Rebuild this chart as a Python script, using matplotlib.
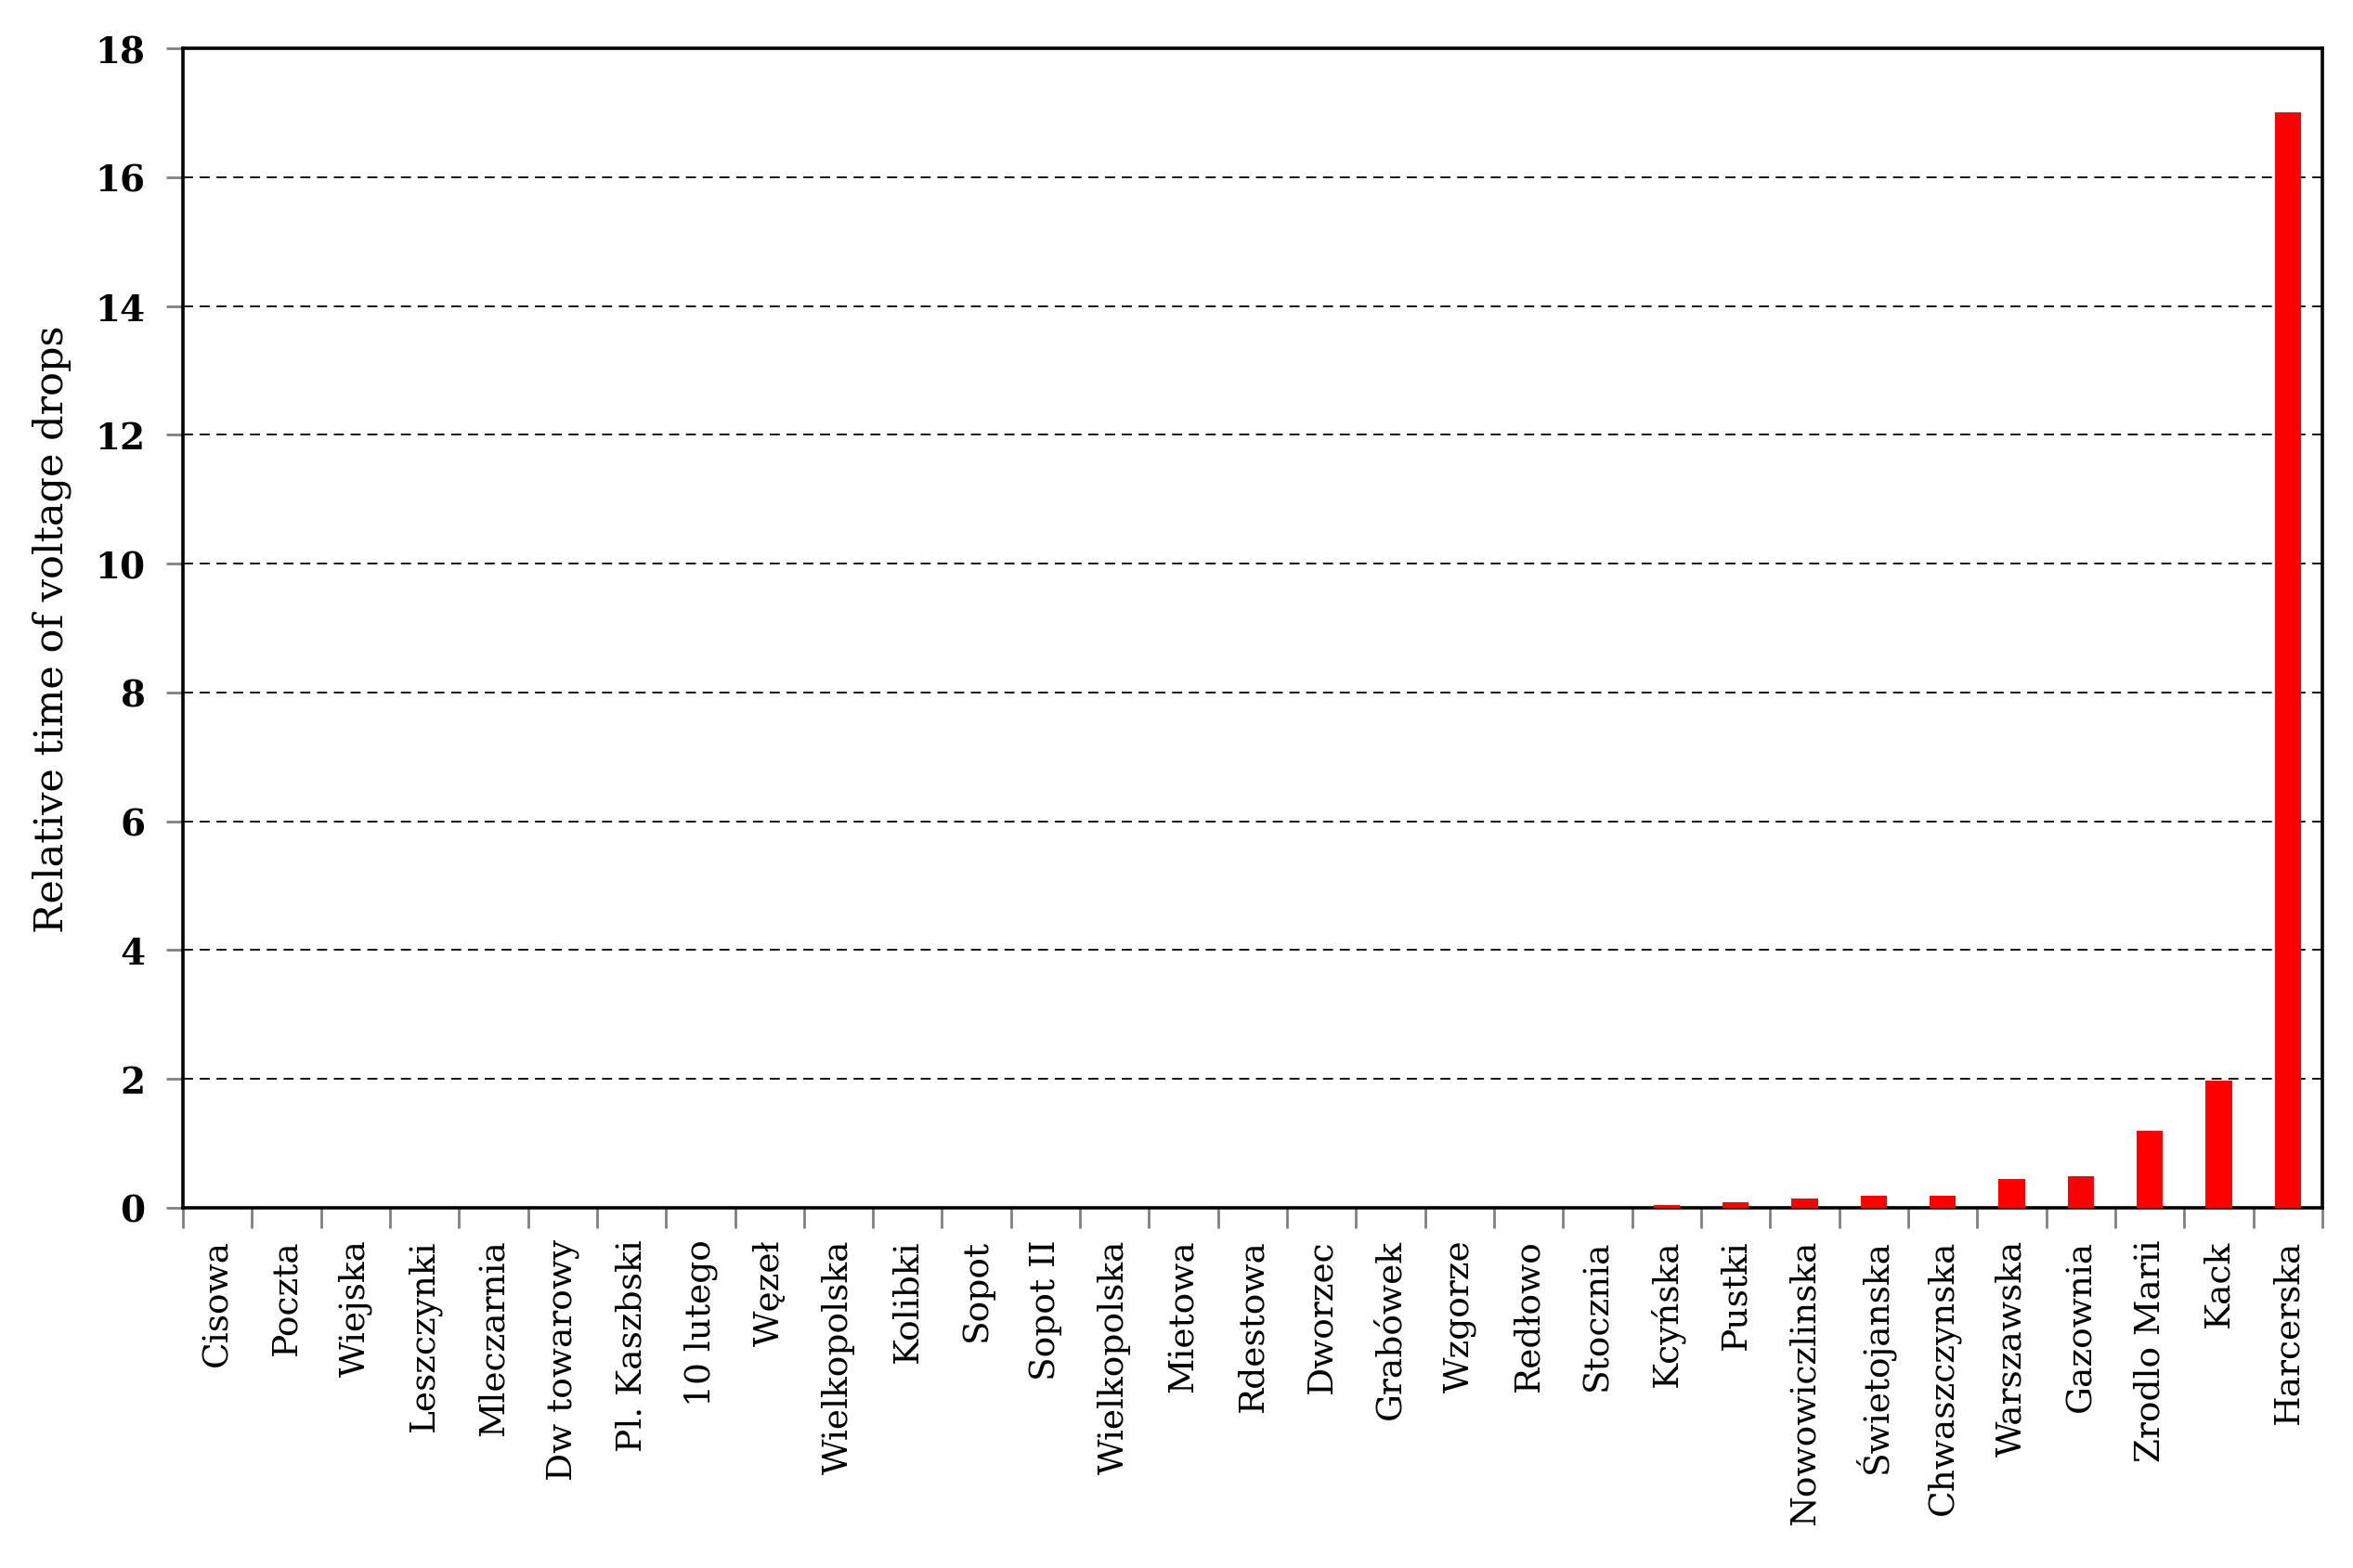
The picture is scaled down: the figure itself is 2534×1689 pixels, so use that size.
import numpy as np
import matplotlib
matplotlib.use("Agg")
import matplotlib.pyplot as plt

# Stations and relative time of voltage drops
stations = ["Cisowa", "Poczta", "Wiejska", "Leszczynki", "Mleczarnia", "Dw towarowy",
            "Pl. Kaszbski", "10 lutego", "Węzeł", "Wielkopolska", "Kolibki", "Sopot",
            "Sopot II", "Wielkopolska", "Mietowa", "Rdestowa", "Dworzec", "Grabówek",
            "Wzgorze", "Redłowo", "Stocznia", "Kcyńska", "Pustki", "Nowowiczlinska",
            "Świetojanska", "Chwaszczynska", "Warszawska", "Gazownia", "Zrodlo Marii",
            "Kack", "Harcerska"]
drop_time = [0, 0, 0, 0, 0, 0, 0, 0, 0, 0, 0, 0, 0, 0, 0, 0, 0, 0, 0, 0, 0,
             0.05, 0.09, 0.14, 0.19, 0.19, 0.44, 0.49, 1.19, 1.97, 17.0]
yticks = [0, 2, 4, 6, 8, 10, 12, 14, 16, 18]

plt.rcParams['font.family'] = ['DejaVu Serif']

fig = plt.figure(figsize=(25.34, 16.90), dpi=100)
ax = fig.add_axes([0.0777, 0.2296, 0.9093, 0.739])

x = np.arange(len(stations))
ax.bar(x, drop_time, width=0.38, color="#ff0000", zorder=3)

ax.set_xlim(-0.5, len(stations) - 0.5)
ax.set_ylim(0, 18)
ax.set_yticks(yticks)
ax.set_yticklabels([str(v) for v in yticks], fontsize=28, fontweight="bold")

# category labels centred, tick marks on the boundaries
ax.set_xticks(x)
ax.set_xticklabels(stations, rotation=90, fontsize=27, va="top", ha="center")
ax.tick_params(axis="x", which="major", length=0, pad=24)
ax.set_xticks(np.arange(len(stations) + 1) - 0.5, minor=True)
ax.tick_params(axis="x", which="minor", length=16, width=2, color="#808080", direction="out")
ax.tick_params(axis="y", length=13, width=2, color="#808080", direction="out", pad=16)

for v in yticks[1:-1]:
    ax.axhline(v, color="black", lw=1.3, ls=(0, (6, 4)), zorder=1)

for s in ax.spines.values():
    s.set_linewidth(2.6)
    s.set_color("black")

ax.set_ylabel("Relative time of voltage drops", fontsize=31, labelpad=18)

fig.savefig("out.png", dpi=100)
